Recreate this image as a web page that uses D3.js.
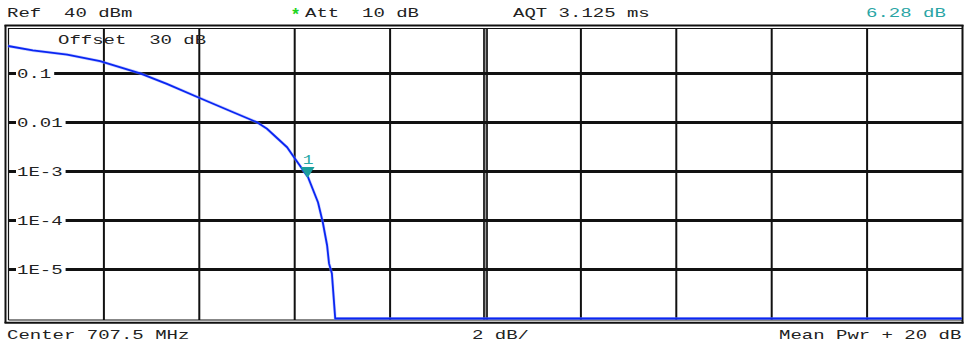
<!DOCTYPE html>
<html>
<head>
<meta charset="utf-8">
<script src="https://cdn.jsdelivr.net/npm/d3@7"></script>
<style>
  html, body { margin: 0; padding: 0; background: #fff; }
  svg { display: block; }
  .t { font-family: "Liberation Mono", "DejaVu Sans Mono", monospace; font-size: 19px; fill: #222; white-space: pre; }
</style>
</head>
<body>
<svg id="chart" width="964" height="348"></svg>
<script>
// ---- data ----
const levelDb = [0, 0.52, 1.24, 1.93, 2.77, 3.33, 3.98, 4.72, 5.22, 5.43, 5.85, 5.97, 6.29, 6.50, 6.60, 6.69, 6.73, 6.79, 6.86, 20];
const probability = [0.364, 0.295, 0.244, 0.178, 0.101, 0.0616, 0.0328, 0.0162, 0.0101, 0.00743, 0.00313, 0.00212, 0.000765, 2.33e-4, 9.1e-5, 3.09e-5, 1.33e-5, 8.3e-6, 1e-6, 1e-6];
const xDomain = [0, 20];
const xGridTicks = [2, 4, 6, 8, 10, 12, 14, 16, 18];
const yDomain = [1e-6, 1];
const yTickValues = [0.1, 0.01, 1e-3, 1e-4, 1e-5];
const yTickLabels = ["0.1", "0.01", "1E-3", "1E-4", "1E-5"];
const markerDb = 6.28;
const markerProb = 0.00075;
const markerLabel = "1";
const headerTexts = ["Ref  40 dBm", "Att  10 dB", "AQT 3.125 ms", "6.28 dB"];
const footerTexts = ["Center 707.5 MHz", "2 dB/", "Mean Pwr + 20 dB"];
const offsetText = "Offset  30 dB";

// ---- layout ----
const L = 8, R = 962, T = 28, B = 320;
const svg = d3.select("#chart");
const x = d3.scaleLinear().domain(xDomain).range([L, R]);
const y = d3.scaleLog().domain(yDomain).range([318.5, 24.5]);

function txt(g, s, px, py, color, anchor) {
  return g.append("text").attr("class", "t")
    .attr("xml:space", "preserve")
    .attr("transform", `translate(${px},${py}) scale(1,0.72)`)
    .attr("text-anchor", anchor || "start")
    .style("fill", color || "#222")
    .text(s);
}

// vertical grid via axis
const gx = svg.append("g").attr("transform", `translate(0,${B})`)
  .call(d3.axisBottom(x).tickValues(xGridTicks).tickSize(-(B - T)).tickFormat(""));
gx.select(".domain").remove();
gx.selectAll(".tick line").attr("stroke", "#111").attr("stroke-width", 2);
// center double line
gx.selectAll(".tick").filter(d => d === 10).each(function () {
  const t = d3.select(this);
  t.select("line").attr("stroke", "#999").attr("stroke-width", 5);
  t.append("line").attr("x1", -1.5).attr("x2", -1.5).attr("y2", -(B - T)).attr("stroke", "#111").attr("stroke-width", 1.5);
  t.append("line").attr("x1", 1.5).attr("x2", 1.5).attr("y2", -(B - T)).attr("stroke", "#111").attr("stroke-width", 1.5);
});

// horizontal grid with labels
const gy = svg.append("g");
yTickValues.forEach((v, i) => {
  const yy = y(v);
  const label = txt(gy, yTickLabels[i], 17, yy + 4.5, "#222");
  const w = label.node().getComputedTextLength();
  gy.insert("line", "text").attr("x1", L).attr("x2", 16).attr("y1", yy).attr("y2", yy)
    .attr("stroke", "#111").attr("stroke-width", 3);
  gy.insert("line", "text").attr("x1", 17 + w + 3).attr("x2", R).attr("y1", yy).attr("y2", yy)
    .attr("stroke", "#111").attr("stroke-width", 3);
});

// frame
const fr = svg.append("g").attr("fill", "none").attr("stroke", "#111");
fr.append("line").attr("x1", 4.5).attr("x2", 963.5).attr("y1", 25.5).attr("y2", 25.5).attr("stroke-width", 2);
fr.append("line").attr("x1", 8.5).attr("x2", R).attr("y1", 28.5).attr("y2", 28.5).attr("stroke-width", 1.2);
fr.append("line").attr("x1", 5.5).attr("x2", 5.5).attr("y1", 25).attr("y2", 323).attr("stroke-width", 2);
fr.append("line").attr("x1", 8.5).attr("x2", 8.5).attr("y1", 28).attr("y2", 320).attr("stroke-width", 1.2);
fr.append("line").attr("x1", 962.5).attr("x2", 962.5).attr("y1", 25).attr("y2", 323.5).attr("stroke-width", 2);
fr.append("line").attr("x1", 8.5).attr("x2", R).attr("y1", 320).attr("y2", 320).attr("stroke-width", 1.2);
fr.append("line").attr("x1", 4.5).attr("x2", 963.5).attr("y1", 322.8).attr("y2", 322.8).attr("stroke-width", 2);

// trace
const pts = levelDb.map((d, i) => [d, probability[i]]);
const line = d3.line().x(d => x(d[0])).y(d => y(d[1]));
svg.append("path").datum(pts).attr("d", line).attr("fill", "none")
  .attr("stroke", "#8fa0ff").attr("stroke-width", 3).attr("stroke-opacity", 0.5);
svg.append("path").datum(pts).attr("d", line).attr("fill", "none")
  .attr("stroke", "#0a26f2").attr("stroke-width", 1.8);

// marker
const mx = x(markerDb), my = y(markerProb);
svg.append("path")
  .attr("d", `M${mx - 7},${my - 10.5} L${mx + 7},${my - 10.5} L${mx},${my + 0.5} Z`)
  .attr("fill", "#1b9e9e");
svg.append("text").attr("class", "t")
  .attr("transform", `translate(${mx + 0.5},${my - 14}) scale(0.95,0.72)`)
  .attr("text-anchor", "middle").style("fill", "#2aa8a8").text(markerLabel);

// header / footer texts
const hg = svg.append("g");
txt(hg, headerTexts[0], 7, 17);
hg.append("text").attr("class", "t")
  .attr("transform", "translate(295.5,20)")
  .attr("text-anchor", "middle").style("fill", "#1ed41e").style("font-weight", "bold")
  .style("font-size", "17px").text("*");
txt(hg, headerTexts[1], 305, 17);
txt(hg, headerTexts[2], 513, 17);
txt(hg, headerTexts[3], 866, 17, "#2aa5a5");
txt(hg, offsetText, 58, 44);
txt(hg, footerTexts[0], 7, 339);
txt(hg, footerTexts[1], 472, 339);
txt(hg, footerTexts[2], 779, 339);
</script>
</body>
</html>
